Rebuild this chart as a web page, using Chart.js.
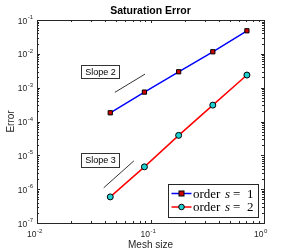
<!DOCTYPE html>
<html>
<head>
<meta charset="utf-8">
<script src="https://cdn.jsdelivr.net/npm/chart.js@4/dist/chart.umd.min.js"></script>
<style>
html,body{margin:0;padding:0;background:#fff;}
canvas{display:block;}
</style>
</head>
<body>
<canvas id="c" width="291" height="251"></canvas>
<script>
// ---- data ----
const meshSizes = [0.0442, 0.0884, 0.177, 0.354, 0.707];
const errOrder1 = [1.81e-4, 7.4e-4, 2.95e-3, 1.15e-2, 4.8e-2];
const errOrder2 = [5.9e-7, 4.57e-6, 3.89e-5, 3.05e-4, 2.36e-3];
const slope2X = [0.0485, 0.0895];
const slope2Y = [7.26e-4, 2.52e-3];
const slope3X = [0.0387, 0.0714];
const slope3Y = [1.1e-6, 6.87e-6];
const seriesLabels = ['1', '2'];
const xDecades = [-2, -1, 0];
const yDecades = [-7, -6, -5, -4, -3, -2, -1];
const titleText = 'Saturation Error';
const xTitle = 'Mesh size';
const yTitle = 'Error';
const slopeLabels = ['Slope 2', 'Slope 3'];

const pts = (xs, ys) => xs.map((x, i) => ({x: x, y: ys[i]}));

const AX = '#262626';
const TF = '"Liberation Sans", Arial, sans-serif';

function drawPow(ctx, exp, x, y, mode) {
  const base = '10', ex = String(exp);
  ctx.font = '8.5px ' + TF;
  const wb = ctx.measureText(base).width;
  ctx.font = '6px ' + TF;
  const we = ctx.measureText(ex).width;
  let x0;
  if (mode === 'x') x0 = x - wb - 0.5;
  else x0 = x - wb - we - 0.5;
  ctx.fillStyle = AX;
  ctx.textAlign = 'left';
  ctx.textBaseline = 'alphabetic';
  ctx.font = '8.5px ' + TF;
  ctx.fillText(base, x0, y);
  ctx.font = '6px ' + TF;
  ctx.fillText(ex, x0 + wb + 0.5, y - 4.5);
}

const axesPlugin = {
  id: 'matlabAxes',
  afterDatasetsDraw(chart) {
    const ctx = chart.ctx;
    const a = chart.chartArea;
    const xs = chart.scales.x, ys = chart.scales.y;
    ctx.save();
    ctx.strokeStyle = AX;
    ctx.lineWidth = 1;
    ctx.beginPath();
    xDecades.forEach(k => {
      for (let m = 1; m <= 9; m++) {
        const v = m * Math.pow(10, k);
        if (v > 1.0000001) break;
        const px = Math.round(xs.getPixelForValue(v)) + 0.5;
        const len = m === 1 ? 3 : 2;
        ctx.moveTo(px, a.bottom); ctx.lineTo(px, a.bottom - len);
        ctx.moveTo(px, a.top); ctx.lineTo(px, a.top + len);
      }
    });
    yDecades.forEach(k => {
      for (let m = 1; m <= 9; m++) {
        const v = m * Math.pow(10, k);
        if (v > 0.1000001) break;
        const py = Math.round(ys.getPixelForValue(v)) + 0.5;
        const len = m === 1 ? 3 : 2;
        ctx.moveTo(a.left, py); ctx.lineTo(a.left + len, py);
        ctx.moveTo(a.right, py); ctx.lineTo(a.right - len, py);
      }
    });
    ctx.stroke();
    ctx.strokeRect(Math.round(a.left) + 0.5, Math.round(a.top) + 0.5,
                   Math.round(a.right - a.left), Math.round(a.bottom - a.top));
    xDecades.forEach(k => {
      drawPow(ctx, k, xs.getPixelForValue(Math.pow(10, k)), a.bottom + 14, 'x');
    });
    yDecades.forEach(k => {
      drawPow(ctx, k, a.left - 4, ys.getPixelForValue(Math.pow(10, k)) + 3.5, 'y');
    });
    ctx.fillStyle = '#000';
    ctx.textAlign = 'center';
    ctx.font = 'bold 10.5px ' + TF;
    ctx.fillText(titleText, (a.left + a.right) / 2, 14);
    ctx.fillStyle = AX;
    ctx.font = '10px ' + TF;
    ctx.fillText(xTitle, (a.left + a.right) / 2, 248);
    ctx.save();
    ctx.translate(14, (a.top + a.bottom) / 2);
    ctx.rotate(-Math.PI / 2);
    ctx.fillText(yTitle, 0, 0);
    ctx.restore();

    const boxes = [[81, 65, 38, 13], [81, 152.5, 38, 14]];
    boxes.forEach((b, i) => {
      ctx.fillStyle = '#fff';
      ctx.fillRect(b[0] + 0.5, b[1] + 0.5, b[2], b[3]);
      ctx.strokeStyle = '#333';
      ctx.lineWidth = 1;
      ctx.strokeRect(Math.round(b[0]) + 0.5, Math.round(b[1]) + 0.5, b[2], b[3]);
      ctx.fillStyle = '#000';
      ctx.font = '9px ' + TF;
      ctx.textAlign = 'center';
      ctx.textBaseline = 'middle';
      ctx.fillText(slopeLabels[i], b[0] + b[2] / 2 + 0.5, b[1] + b[3] / 2 + 1);
    });

    const L = {x: 168, y: 184, w: 90, h: 33};
    ctx.fillStyle = '#fff';
    ctx.fillRect(L.x, L.y, L.w, L.h);
    ctx.strokeStyle = AX;
    ctx.lineWidth = 1;
    ctx.strokeRect(L.x + 0.5, L.y + 0.5, L.w, L.h);
    const ds = chart.data.datasets;
    [0, 1].forEach(i => {
      const cy = L.y + 9.5 + i * 13.5;
      const d = ds[i];
      ctx.strokeStyle = d.borderColor;
      ctx.lineWidth = 1.5;
      ctx.beginPath();
      ctx.moveTo(L.x + 3.5, cy); ctx.lineTo(L.x + 23.5, cy);
      ctx.stroke();
      ctx.fillStyle = d.pointBackgroundColor;
      ctx.strokeStyle = '#000';
      ctx.lineWidth = 1;
      const mx = L.x + 13.5;
      if (d.pointStyle === 'rect') {
        ctx.fillRect(mx - 2.5, cy - 2.5, 5, 5);
        ctx.strokeRect(mx - 2.5, cy - 2.5, 5, 5);
      } else {
        ctx.beginPath(); ctx.arc(mx, cy, 2.8, 0, Math.PI * 2); ctx.fill(); ctx.stroke();
      }
      ctx.fillStyle = '#000';
      ctx.textAlign = 'left';
      ctx.textBaseline = 'alphabetic';
      const by = cy + 4;
      const SF = '"Liberation Serif", "Times New Roman", serif';
      ctx.font = '13px ' + SF;
      ctx.fillText('order', L.x + 25, by);
      ctx.font = 'italic 13px ' + SF;
      ctx.fillText('s', L.x + 57, by);
      ctx.font = '13px ' + SF;
      ctx.fillText('=', L.x + 65, by);
      ctx.fillText(seriesLabels[i], L.x + 79, by);
    });
    ctx.restore();
  }
};

new Chart(document.getElementById('c'), {
  type: 'scatter',
  data: {
    datasets: [
      {
        label: 'order s = 1',
        data: pts(meshSizes, errOrder1),
        showLine: true,
        borderColor: '#0000ff',
        borderWidth: 1.5,
        pointStyle: 'rect',
        pointRadius: 3,
        pointBackgroundColor: '#d00000',
        pointBorderColor: '#000',
        pointBorderWidth: 1
      },
      {
        label: 'order s = 2',
        data: pts(meshSizes, errOrder2),
        showLine: true,
        borderColor: '#ff0000',
        borderWidth: 1.5,
        pointStyle: 'circle',
        pointRadius: 3,
        pointBackgroundColor: '#20d0d0',
        pointBorderColor: '#000',
        pointBorderWidth: 1
      },
      {
        label: 'slope2',
        data: pts(slope2X, slope2Y),
        showLine: true,
        borderColor: '#000',
        borderWidth: 0.8,
        pointRadius: 0
      },
      {
        label: 'slope3',
        data: pts(slope3X, slope3Y),
        showLine: true,
        borderColor: '#000',
        borderWidth: 0.8,
        pointRadius: 0
      }
    ]
  },
  options: {
    responsive: false,
    devicePixelRatio: 1,
    animation: false,
    layout: {padding: {left: 37, right: 27, top: 20, bottom: 28}},
    plugins: {legend: {display: false}, tooltip: {enabled: false}, title: {display: false}},
    scales: {
      x: {type: 'logarithmic', min: 0.01, max: 1, display: false},
      y: {type: 'logarithmic', min: 1e-7, max: 1e-1, display: false}
    }
  },
  plugins: [axesPlugin]
});
</script>
</body>
</html>
